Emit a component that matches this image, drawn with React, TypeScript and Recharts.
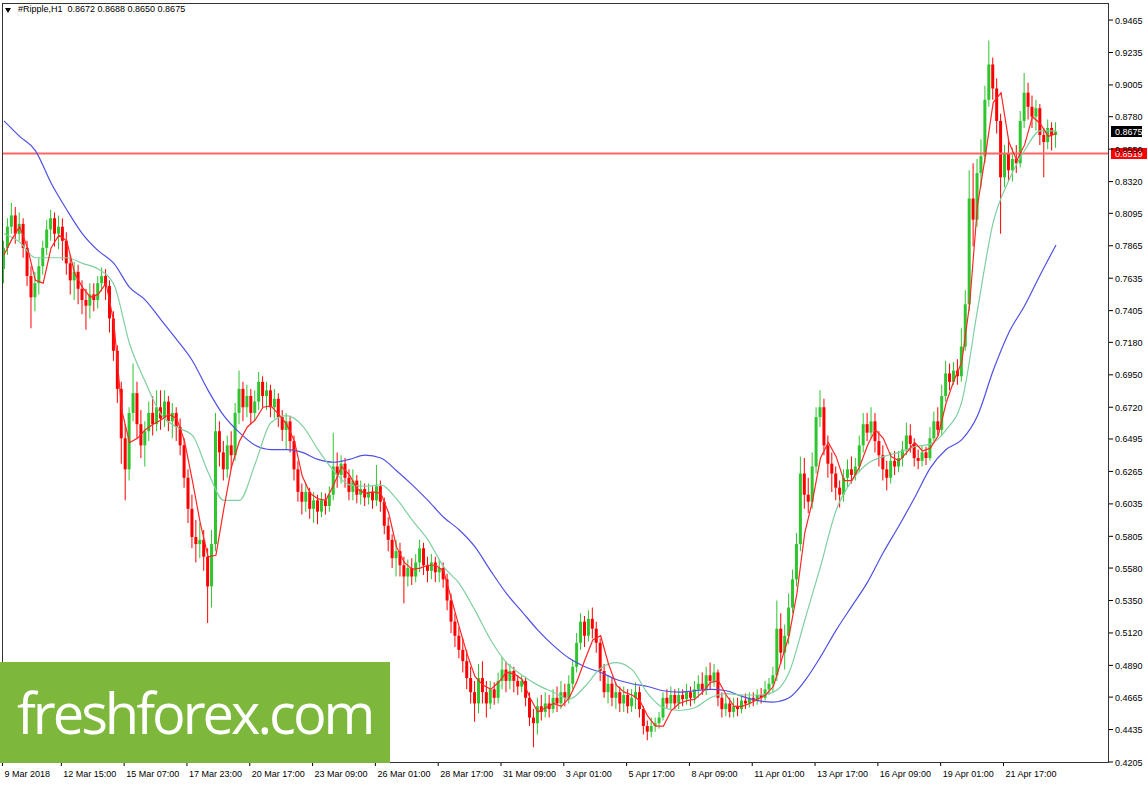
import React from "react";
import { ComposedChart, Bar, Line, XAxis, YAxis, ReferenceLine, Cell } from "recharts";

// H1 XRP chart redrawn with 4-hour candles
const opens = [
  0.770, 0.785, 0.800, 0.808, 0.795, 0.802, 0.785, 0.765, 0.750, 0.760, 0.772, 0.785, 0.798, 0.806, 0.795, 0.800, 0.790, 0.774, 0.762, 0.768, 0.756, 0.748, 0.744, 0.752, 0.748, 0.760, 0.765, 0.758,
  0.735, 0.712, 0.685, 0.650, 0.628, 0.668, 0.682, 0.660, 0.645, 0.655, 0.668, 0.660, 0.672, 0.664, 0.676, 0.662, 0.668, 0.658, 0.645, 0.622, 0.600, 0.580, 0.575, 0.578, 0.566, 0.545, 0.575, 0.655,
  0.640, 0.628, 0.645, 0.638, 0.668, 0.685, 0.672, 0.680, 0.668, 0.676, 0.690, 0.680, 0.684, 0.672, 0.678, 0.665, 0.656, 0.662, 0.648, 0.628, 0.612, 0.605, 0.612, 0.600, 0.606, 0.598, 0.606, 0.602,
  0.610, 0.630, 0.624, 0.632, 0.622, 0.612, 0.620, 0.610, 0.614, 0.608, 0.612, 0.606, 0.616, 0.605, 0.588, 0.578, 0.565, 0.570, 0.560, 0.552, 0.558, 0.552, 0.562, 0.572, 0.560, 0.556, 0.562, 0.555,
  0.558, 0.550, 0.535, 0.520, 0.510, 0.500, 0.492, 0.480, 0.470, 0.462, 0.480, 0.470, 0.462, 0.472, 0.466, 0.478, 0.486, 0.478, 0.485, 0.478, 0.474, 0.478, 0.466, 0.452, 0.448, 0.460, 0.456, 0.462,
  0.458, 0.466, 0.462, 0.470, 0.466, 0.476, 0.488, 0.505, 0.520, 0.510, 0.522, 0.515, 0.505, 0.485, 0.470, 0.476, 0.466, 0.470, 0.462, 0.468, 0.460, 0.466, 0.470, 0.458, 0.446, 0.442, 0.446, 0.448,
  0.452, 0.466, 0.462, 0.468, 0.462, 0.468, 0.465, 0.470, 0.466, 0.472, 0.476, 0.472, 0.482, 0.478, 0.484, 0.466, 0.458, 0.462, 0.456, 0.460, 0.458, 0.464, 0.462, 0.466, 0.464, 0.468, 0.466, 0.472,
  0.476, 0.482, 0.515, 0.498, 0.510, 0.530, 0.550, 0.575, 0.625, 0.610, 0.605, 0.630, 0.665, 0.672, 0.645, 0.632, 0.625, 0.615, 0.610, 0.622, 0.628, 0.624, 0.630, 0.645, 0.660, 0.654, 0.662, 0.648,
  0.638, 0.628, 0.622, 0.634, 0.630, 0.636, 0.642, 0.652, 0.646, 0.636, 0.634, 0.640, 0.636, 0.650, 0.662, 0.656, 0.680, 0.696, 0.690, 0.698, 0.694, 0.715, 0.745, 0.820, 0.805, 0.838, 0.850, 0.890,
  0.915, 0.898, 0.875, 0.835, 0.852, 0.840, 0.848, 0.845, 0.875, 0.895, 0.885, 0.878, 0.884, 0.865, 0.860, 0.870, 0.865,
];
const highs = [
  0.790, 0.806, 0.817, 0.814, 0.810, 0.806, 0.790, 0.772, 0.768, 0.778, 0.790, 0.805, 0.812, 0.810, 0.808, 0.806, 0.796, 0.780, 0.775, 0.773, 0.762, 0.756, 0.760, 0.760, 0.765, 0.771, 0.770, 0.762,
  0.740, 0.716, 0.690, 0.660, 0.672, 0.703, 0.690, 0.670, 0.662, 0.676, 0.680, 0.684, 0.684, 0.684, 0.680, 0.675, 0.672, 0.664, 0.650, 0.628, 0.610, 0.592, 0.590, 0.585, 0.572, 0.585, 0.668, 0.662,
  0.648, 0.652, 0.655, 0.675, 0.698, 0.690, 0.688, 0.685, 0.684, 0.697, 0.694, 0.690, 0.688, 0.685, 0.682, 0.670, 0.668, 0.666, 0.652, 0.634, 0.618, 0.618, 0.615, 0.612, 0.610, 0.612, 0.611, 0.616,
  0.654, 0.640, 0.638, 0.636, 0.628, 0.628, 0.624, 0.620, 0.618, 0.618, 0.616, 0.631, 0.620, 0.608, 0.594, 0.582, 0.578, 0.576, 0.566, 0.564, 0.565, 0.568, 0.578, 0.576, 0.566, 0.568, 0.566, 0.564,
  0.562, 0.554, 0.540, 0.526, 0.516, 0.508, 0.500, 0.488, 0.478, 0.490, 0.492, 0.478, 0.478, 0.477, 0.484, 0.495, 0.492, 0.490, 0.488, 0.482, 0.482, 0.481, 0.470, 0.458, 0.466, 0.468, 0.470, 0.468,
  0.472, 0.474, 0.478, 0.476, 0.482, 0.493, 0.512, 0.526, 0.524, 0.528, 0.530, 0.520, 0.508, 0.490, 0.482, 0.480, 0.477, 0.474, 0.474, 0.472, 0.472, 0.477, 0.474, 0.460, 0.450, 0.452, 0.452, 0.456,
  0.470, 0.472, 0.474, 0.472, 0.473, 0.472, 0.476, 0.474, 0.478, 0.482, 0.484, 0.488, 0.491, 0.490, 0.486, 0.470, 0.468, 0.466, 0.466, 0.466, 0.468, 0.469, 0.470, 0.470, 0.472, 0.473, 0.478, 0.480,
  0.488, 0.535, 0.526, 0.518, 0.540, 0.557, 0.583, 0.637, 0.636, 0.622, 0.640, 0.672, 0.684, 0.678, 0.652, 0.640, 0.630, 0.620, 0.628, 0.635, 0.637, 0.636, 0.652, 0.668, 0.668, 0.672, 0.668, 0.655,
  0.645, 0.634, 0.640, 0.641, 0.641, 0.648, 0.661, 0.660, 0.650, 0.642, 0.645, 0.644, 0.658, 0.669, 0.672, 0.688, 0.705, 0.703, 0.704, 0.706, 0.728, 0.755, 0.840, 0.845, 0.848, 0.862, 0.900, 0.932,
  0.920, 0.905, 0.880, 0.858, 0.862, 0.856, 0.858, 0.882, 0.909, 0.902, 0.893, 0.890, 0.887, 0.870, 0.876, 0.874, 0.874,
];
const lows = [
  0.760, 0.780, 0.795, 0.788, 0.790, 0.778, 0.758, 0.728, 0.740, 0.752, 0.766, 0.780, 0.790, 0.786, 0.784, 0.776, 0.766, 0.752, 0.748, 0.745, 0.738, 0.727, 0.735, 0.740, 0.742, 0.754, 0.748, 0.725,
  0.705, 0.675, 0.632, 0.606, 0.620, 0.662, 0.650, 0.636, 0.630, 0.648, 0.652, 0.655, 0.656, 0.658, 0.655, 0.650, 0.648, 0.638, 0.615, 0.590, 0.572, 0.562, 0.565, 0.556, 0.519, 0.530, 0.570, 0.630,
  0.620, 0.622, 0.628, 0.634, 0.660, 0.662, 0.665, 0.660, 0.662, 0.670, 0.672, 0.670, 0.665, 0.664, 0.658, 0.648, 0.642, 0.640, 0.620, 0.605, 0.596, 0.598, 0.593, 0.590, 0.589, 0.594, 0.596, 0.598,
  0.606, 0.615, 0.618, 0.615, 0.606, 0.606, 0.604, 0.603, 0.602, 0.603, 0.600, 0.602, 0.598, 0.582, 0.570, 0.558, 0.552, 0.552, 0.533, 0.545, 0.546, 0.548, 0.555, 0.553, 0.548, 0.550, 0.548, 0.548,
  0.544, 0.528, 0.512, 0.502, 0.494, 0.484, 0.472, 0.462, 0.449, 0.455, 0.462, 0.452, 0.458, 0.461, 0.462, 0.472, 0.470, 0.472, 0.470, 0.468, 0.470, 0.460, 0.446, 0.431, 0.440, 0.450, 0.452, 0.452,
  0.455, 0.456, 0.458, 0.460, 0.462, 0.472, 0.484, 0.500, 0.502, 0.506, 0.508, 0.498, 0.478, 0.466, 0.462, 0.460, 0.458, 0.456, 0.456, 0.455, 0.456, 0.458, 0.452, 0.440, 0.436, 0.438, 0.442, 0.444,
  0.450, 0.458, 0.458, 0.458, 0.458, 0.460, 0.461, 0.460, 0.462, 0.466, 0.468, 0.468, 0.472, 0.474, 0.460, 0.452, 0.453, 0.452, 0.452, 0.453, 0.455, 0.458, 0.459, 0.460, 0.461, 0.462, 0.464, 0.468,
  0.470, 0.478, 0.490, 0.486, 0.504, 0.526, 0.545, 0.570, 0.600, 0.597, 0.600, 0.625, 0.658, 0.638, 0.622, 0.612, 0.606, 0.601, 0.605, 0.615, 0.618, 0.620, 0.626, 0.640, 0.648, 0.650, 0.640, 0.630,
  0.620, 0.613, 0.618, 0.624, 0.626, 0.630, 0.638, 0.640, 0.630, 0.628, 0.630, 0.631, 0.634, 0.648, 0.652, 0.652, 0.676, 0.684, 0.688, 0.688, 0.690, 0.712, 0.740, 0.786, 0.800, 0.828, 0.845, 0.885,
  0.890, 0.866, 0.795, 0.828, 0.832, 0.832, 0.838, 0.842, 0.870, 0.876, 0.870, 0.868, 0.858, 0.835, 0.855, 0.854, 0.856,
];
const closes = [
  0.785, 0.800, 0.808, 0.795, 0.802, 0.785, 0.765, 0.750, 0.760, 0.772, 0.785, 0.798, 0.806, 0.795, 0.800, 0.790, 0.774, 0.762, 0.768, 0.756, 0.748, 0.744, 0.752, 0.748, 0.760, 0.765, 0.758, 0.735,
  0.712, 0.685, 0.650, 0.628, 0.668, 0.682, 0.660, 0.645, 0.655, 0.668, 0.660, 0.672, 0.664, 0.676, 0.662, 0.668, 0.658, 0.645, 0.622, 0.600, 0.580, 0.575, 0.578, 0.566, 0.545, 0.575, 0.655, 0.640,
  0.628, 0.645, 0.638, 0.668, 0.685, 0.672, 0.680, 0.668, 0.676, 0.690, 0.680, 0.684, 0.672, 0.678, 0.665, 0.656, 0.662, 0.648, 0.628, 0.612, 0.605, 0.612, 0.600, 0.606, 0.598, 0.606, 0.602, 0.610,
  0.630, 0.624, 0.632, 0.622, 0.612, 0.620, 0.610, 0.614, 0.608, 0.612, 0.606, 0.616, 0.605, 0.588, 0.578, 0.565, 0.570, 0.560, 0.552, 0.558, 0.552, 0.562, 0.572, 0.560, 0.556, 0.562, 0.555, 0.558,
  0.550, 0.535, 0.520, 0.510, 0.500, 0.492, 0.480, 0.470, 0.462, 0.480, 0.470, 0.462, 0.472, 0.466, 0.478, 0.486, 0.478, 0.485, 0.478, 0.474, 0.478, 0.466, 0.452, 0.448, 0.460, 0.456, 0.462, 0.458,
  0.466, 0.462, 0.470, 0.466, 0.476, 0.488, 0.505, 0.520, 0.510, 0.522, 0.515, 0.505, 0.485, 0.470, 0.476, 0.466, 0.470, 0.462, 0.468, 0.460, 0.466, 0.470, 0.458, 0.446, 0.442, 0.446, 0.448, 0.452,
  0.466, 0.462, 0.468, 0.462, 0.468, 0.465, 0.470, 0.466, 0.472, 0.476, 0.472, 0.482, 0.478, 0.484, 0.466, 0.458, 0.462, 0.456, 0.460, 0.458, 0.464, 0.462, 0.466, 0.464, 0.468, 0.466, 0.472, 0.476,
  0.482, 0.515, 0.498, 0.510, 0.530, 0.550, 0.575, 0.625, 0.610, 0.605, 0.630, 0.665, 0.672, 0.645, 0.632, 0.625, 0.615, 0.610, 0.622, 0.628, 0.624, 0.630, 0.645, 0.660, 0.654, 0.662, 0.648, 0.638,
  0.628, 0.622, 0.634, 0.630, 0.636, 0.642, 0.652, 0.646, 0.636, 0.634, 0.640, 0.636, 0.650, 0.662, 0.656, 0.680, 0.696, 0.690, 0.698, 0.694, 0.715, 0.745, 0.820, 0.805, 0.838, 0.850, 0.890, 0.915,
  0.898, 0.875, 0.835, 0.852, 0.840, 0.848, 0.845, 0.875, 0.895, 0.885, 0.878, 0.884, 0.865, 0.860, 0.870, 0.865, 0.8675,
];

// moving averages: slow (blue) and middle (green) read every 4th bar, fast (red) every 2nd bar
const maSlow = [
  0.875, 0.864, 0.854, 0.831, 0.812, 0.795, 0.783, 0.774, 0.757, 0.748, 0.734, 0.720, 0.705, 0.684, 0.666, 0.654, 0.645,
  0.642, 0.642, 0.640, 0.635, 0.633, 0.635, 0.638, 0.636, 0.627, 0.617, 0.606, 0.594, 0.585, 0.573, 0.556, 0.540, 0.527,
  0.514, 0.503, 0.494, 0.488, 0.484, 0.479, 0.476, 0.474, 0.471, 0.470, 0.471, 0.472, 0.471, 0.467, 0.464, 0.463, 0.466,
  0.478, 0.495, 0.514, 0.531, 0.548, 0.569, 0.588, 0.608, 0.629, 0.642, 0.649, 0.666, 0.698, 0.725, 0.744, 0.766, 0.787,
];
const maMid = [
  0.795, 0.789, 0.778, 0.778, 0.778, 0.774, 0.770, 0.759, 0.717, 0.690, 0.667, 0.658, 0.652, 0.626, 0.606, 0.606, 0.632,
  0.661, 0.666, 0.659, 0.642, 0.627, 0.617, 0.616, 0.617, 0.607, 0.592, 0.578, 0.559, 0.547, 0.528, 0.507, 0.491, 0.482,
  0.475, 0.470, 0.465, 0.474, 0.487, 0.491, 0.486, 0.469, 0.459, 0.457, 0.459, 0.466, 0.469, 0.468, 0.468, 0.470, 0.484,
  0.521, 0.559, 0.599, 0.620, 0.632, 0.637, 0.640, 0.644, 0.646, 0.656, 0.676, 0.741, 0.803, 0.833, 0.854, 0.868, 0.868,
];
const maFast = [
  0.780, 0.791, 0.800, 0.785, 0.762, 0.760, 0.785, 0.794, 0.790, 0.767, 0.757, 0.750, 0.752, 0.760,
  0.732, 0.670, 0.647, 0.650, 0.656, 0.660, 0.663, 0.667, 0.664, 0.648, 0.620, 0.590, 0.566, 0.567,
  0.600, 0.630, 0.648, 0.658, 0.663, 0.672, 0.673, 0.667, 0.660, 0.648, 0.623, 0.611, 0.607, 0.606,
  0.617, 0.630, 0.624, 0.614, 0.611, 0.612, 0.611, 0.597, 0.573, 0.562, 0.557, 0.558, 0.560, 0.560,
  0.556, 0.536, 0.516, 0.497, 0.481, 0.475, 0.472, 0.477, 0.484, 0.483, 0.479, 0.466, 0.456, 0.459,
  0.462, 0.460, 0.466, 0.478, 0.493, 0.507, 0.510, 0.490, 0.475, 0.470, 0.468, 0.464, 0.453, 0.446,
  0.446, 0.457, 0.462, 0.464, 0.465, 0.470, 0.477, 0.478, 0.468, 0.460, 0.460, 0.462, 0.465, 0.468,
  0.474, 0.492, 0.510, 0.540, 0.583, 0.606, 0.636, 0.647, 0.637, 0.620, 0.620, 0.630, 0.645, 0.656,
  0.650, 0.637, 0.634, 0.640, 0.647, 0.641, 0.643, 0.652, 0.675, 0.691, 0.704, 0.745, 0.815, 0.850,
  0.888, 0.895, 0.860, 0.847, 0.858, 0.878, 0.873, 0.864, 0.866,
];

const priceTicks = [
  0.9465, 0.9235, 0.9005, 0.878, 0.855, 0.832, 0.8095, 0.7865, 0.7635, 0.7405, 0.718, 0.695,
  0.672, 0.6495, 0.6265, 0.6035, 0.5805, 0.558, 0.535, 0.512, 0.489, 0.4665, 0.4435, 0.4205,
];
const timeLabelIdx = [0, 15, 31, 47, 63, 79, 95, 111, 127, 143, 159, 175, 191, 207, 223, 239, 255];
const timeLabels = [
  "9 Mar 2018", "12 Mar 15:00", "15 Mar 07:00", "17 Mar 23:00", "20 Mar 17:00", "23 Mar 09:00",
  "26 Mar 01:00", "28 Mar 17:00", "31 Mar 09:00", "3 Apr 01:00", "5 Apr 17:00", "8 Apr 09:00",
  "11 Apr 01:00", "13 Apr 17:00", "16 Apr 09:00", "19 Apr 01:00", "21 Apr 17:00",
];

const LEVEL = 0.8519;
const LAST = 0.8675;
const SLOTS = 282; // room on the right like the terminal leaves
const AXIS_Y = 762; // bottom edge of the plot (787 - 25 px axis)
const UP = "#2ec52e";
const DOWN = "#ff0000";
const FONT = "'Liberation Sans', Arial, sans-serif";

const data = Array.from({ length: SLOTS }, (_, i) => {
  if (i >= closes.length) return { i };
  const o = opens[i];
  const c = closes[i];
  return {
    i,
    wick: [lows[i], highs[i]],
    body: [Math.min(o, c), Math.max(o, c)],
    up: c >= o,
    slow: i % 4 === 0 ? maSlow[i / 4] : null,
    mid: i % 4 === 0 ? maMid[i / 4] : null,
    fast: i % 2 === 0 ? maFast[i / 2] : null,
  };
});

const TimeTick = ({ x, payload }: any) => {
  const k = timeLabelIdx.indexOf(payload.value);
  if (k < 0) return <g />;
  return (
    <g>
      <line x1={x - 1.5} x2={x - 1.5} y1={AXIS_Y} y2={AXIS_Y + 4} stroke="#000" />
      <text x={x + 0.5} y={AXIS_Y + 15} fontSize={9} fontFamily={FONT} fill="#000">
        {timeLabels[k]}
      </text>
    </g>
  );
};

const PriceTick = ({ x, y, payload }: any) => (
  <g>
    <line x1={x} x2={x + 4} y1={y} y2={y} stroke="#000" />
    <text x={x + 6} y={y + 3.5} fontSize={9} fontFamily={FONT} fill="#000">
      {Number(payload.value).toFixed(4)}
    </text>
  </g>
);

const PriceTag = ({ viewBox, text, bg, w }: any) => {
  const { x, y, width } = viewBox;
  return (
    <g>
      <rect x={x + width + 2} y={y - 5.5} width={w} height={11} fill={bg} />
      <text x={x + width + 6} y={y + 3.5} fontSize={9} fontFamily={FONT} fill="#fff">
        {text}
      </text>
    </g>
  );
};

export default function App() {
  return (
    <div style={{ position: "absolute", left: 0, top: 0, width: 1148, height: 787, background: "#fff", overflow: "hidden" }}>
      <ComposedChart width={1148} height={787} data={data} margin={{ top: 3, right: 0, bottom: 0, left: 2 }}>
        <XAxis
          xAxisId="main"
          dataKey="i"
          type="category"
          height={25}
          interval={0}
          tickSize={0}
          tickMargin={0}
          tickLine={false}
          axisLine={false}
          tick={<TimeTick />}
        />
        <XAxis xAxisId="wick" dataKey="i" type="category" hide />
        <XAxis xAxisId="body" dataKey="i" type="category" hide />
        <YAxis
          orientation="right"
          width={39}
          domain={[0.4205, 0.9586]}
          allowDataOverflow
          ticks={priceTicks}
          interval={0}
          tickSize={0}
          tickMargin={0}
          tickLine={false}
          axisLine={false}
          tick={<PriceTick />}
        />
        <ReferenceLine
          xAxisId="main"
          y={LEVEL}
          stroke="#ff6666"
          strokeWidth={2}
          label={<PriceTag text={LEVEL.toFixed(4)} bg="#ff0000" w={36} />}
        />
        <Bar xAxisId="wick" dataKey="wick" barSize={1} isAnimationActive={false}>
          {data.map((d: any, k) => (
            <Cell key={`w-${k}`} fill={d.up ? UP : DOWN} />
          ))}
        </Bar>
        <Bar xAxisId="body" dataKey="body" barSize={3} isAnimationActive={false}>
          {data.map((d: any, k) => (
            <Cell key={`b-${k}`} fill={d.up ? UP : DOWN} />
          ))}
        </Bar>
        <Line xAxisId="main" type="monotone" dataKey="slow" stroke="#5050e6" strokeWidth={1.2} dot={false} connectNulls isAnimationActive={false} />
        <Line xAxisId="main" type="monotone" dataKey="mid" stroke="#7fd0a0" strokeWidth={1.2} dot={false} connectNulls isAnimationActive={false} />
        <Line xAxisId="main" type="linear" dataKey="fast" stroke="#ff2626" strokeWidth={1.2} dot={false} connectNulls isAnimationActive={false} />
        <ReferenceLine
          xAxisId="main"
          y={LAST}
          stroke="none"
          label={<PriceTag text={LAST.toFixed(4)} bg="#000" w={31} />}
        />
      </ComposedChart>

      {/* plot frame */}
      <div style={{ position: "absolute", left: 2, top: 3, width: 1107, height: 760, border: "1px solid #333", boxSizing: "border-box", pointerEvents: "none" }} />

      {/* title */}
      <div style={{ position: "absolute", left: 5, top: 8, width: 0, height: 0, borderLeft: "3.5px solid transparent", borderRight: "3.5px solid transparent", borderTop: "5px solid #000" }} />
      <div style={{ position: "absolute", left: 18, top: 4, fontFamily: FONT, fontSize: 9, color: "#000", whiteSpace: "pre" }}>
        #Ripple,H1  0.8672 0.8688 0.8650 0.8675
      </div>

      {/* watermark */}
      <div
        style={{
          position: "absolute",
          left: 0,
          top: 662,
          width: 390,
          height: 101,
          background: "#7db83c",
          color: "#fff",
          fontFamily: "'Open Sans', sans-serif",
          fontSize: 56,
          letterSpacing: -3,
          lineHeight: "101px",
          paddingLeft: 17,
          boxSizing: "border-box",
          whiteSpace: "nowrap",
          overflow: "hidden",
        }}
      >
        freshforex.com
      </div>
    </div>
  );
}
